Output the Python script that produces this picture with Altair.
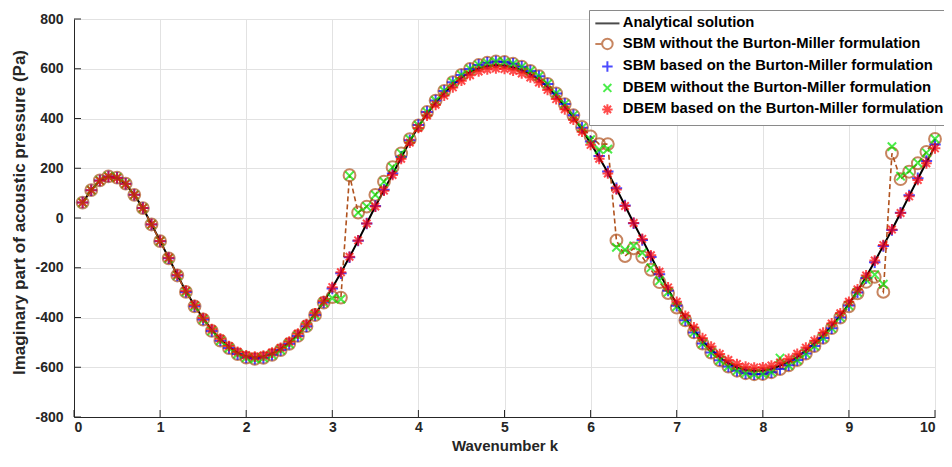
import altair as alt
import pandas as pd

# wavenumber grid (0.1 ... 10.0)
k = [round(0.1 * i, 1) for i in range(1, 101)]

analytical = [
    62, 112, 150, 166, 161, 137, 93, 40, -25, -92,
    -161, -229, -295, -352, -404, -450, -488, -518, -541, -556,
    -561, -557, -545, -526, -501, -469, -431, -386, -337, -280,
    -220, -157, -91, -22, 47, 112, 176, 242, 308, 368,
    419, 464, 502, 536, 564, 587, 602, 611, 615, 613,
    606, 595, 578, 557, 527, 490, 448, 404, 355, 301,
    243, 183, 118, 49, -20, -86, -154, -221, -286, -345,
    -402, -450, -494, -529, -560, -584, -601, -611, -615, -614,
    -607, -594, -579, -559, -533, -504, -471, -434, -392, -345,
    -293, -236, -175, -111, -47, 20, 89, 157, 224, 288,
]

sbm_bm = [
    62, 112, 151, 167, 162, 138, 93, 40, -26, -93,
    -162, -231, -297, -355, -408, -454, -493, -523, -547, -561,
    -566, -562, -550, -531, -506, -474, -435, -390, -340, -283,
    -222, -158, -91, -22, 48, 114, 179, 246, 313, 374,
    426, 472, 511, 546, 575, 599, 615, 624, 629, 627,
    620, 608, 591, 570, 539, 501, 458, 413, 363, 308,
    249, 187, 120, 50, -21, -88, -157, -226, -292, -353,
    -411, -460, -505, -541, -572, -597, -614, -624, -628, -627,
    -620, -607, -592, -571, -545, -515, -482, -443, -400, -352,
    -299, -241, -178, -113, -48, 21, 91, 160, 229, 295,
]

dbem_bm = [
    62, 112, 150, 166, 161, 137, 93, 40, -25, -92,
    -160, -228, -293, -350, -402, -447, -485, -515, -538, -552,
    -557, -553, -541, -522, -497, -465, -427, -383, -334, -278,
    -218, -156, -90, -22, 46, 110, 173, 238, 303, 362,
    412, 455, 492, 525, 552, 574, 589, 597, 601, 599,
    592, 581, 565, 545, 515, 478, 437, 395, 347, 294,
    238, 179, 115, 48, -20, -84, -150, -216, -279, -337,
    -393, -440, -483, -517, -547, -571, -587, -597, -601, -600,
    -593, -581, -566, -546, -521, -493, -461, -424, -383, -337,
    -287, -231, -171, -109, -46, 20, 87, 153, 220, 280,
]

sbm_wo = [
    62, 112, 151, 167, 162, 138, 93, 40, -26, -93,
    -162, -231, -297, -355, -408, -454, -493, -523, -547, -561,
    -566, -562, -550, -531, -506, -474, -435, -390, -340, -318,
    -320, 172, 22, 46, 93, 146, 204, 260, 317, 372,
    426, 472, 511, 546, 575, 599, 615, 624, 629, 627,
    620, 608, 591, 570, 539, 501, 458, 413, 366, 328,
    297, 297, -90, -153, -122, -156, -208, -258, -302, -360,
    -411, -460, -505, -541, -572, -597, -614, -624, -628, -627,
    -620, -607, -592, -571, -545, -515, -482, -443, -400, -355,
    -303, -257, -237, -297, 260, 156, 186, 220, 266, 318,
]

dbem_wo = [
    62, 112, 151, 167, 162, 138, 93, 40, -26, -93,
    -162, -231, -297, -355, -408, -454, -493, -523, -547, -561,
    -566, -562, -550, -531, -506, -474, -435, -390, -340, -322,
    -326, 170, 22, 46, 93, 146, 204, 260, 317, 372,
    426, 472, 511, 546, 575, 599, 615, 624, 629, 627,
    620, 608, 591, 570, 539, 501, 458, 413, 363, 315,
    275, 277, -118, -128, -112, -140, -200, -252, -298, -356,
    -411, -460, -505, -541, -572, -597, -614, -624, -628, -627,
    -620, -563, -592, -571, -545, -515, -482, -443, -400, -352,
    -299, -248, -228, -266, 287, 168, 190, 222, 262, 318,
]

names = [
    "Analytical solution",
    "SBM without the Burton-Miller formulation",
    "SBM based on the Burton-Miller formulation",
    "DBEM without the Burton-Miller formulation",
    "DBEM based on the Burton-Miller formulation",
]
colors = ["#000000", "#B0521E", "#0000FF", "#00E600", "#FF0000"]

x_ticks = list(range(0, 11))
y_ticks = list(range(-800, 801, 200))

FONT = "Liberation Sans"
BROWN = colors[1]

# long table of the four numerical series (drawing order = legend order)
rows = []
for name, vals in zip(names[1:], [sbm_wo, sbm_bm, dbem_wo, dbem_bm]):
    for kk, v in zip(k, vals):
        rows.append({"k": kk, "v": v, "series": name})
pts = pd.DataFrame(rows)
ana = pd.DataFrame({"k": k, "v": analytical})
sbw = pd.DataFrame({"k": k, "v": sbm_wo})
legend_df = pd.DataFrame({"k": [0.0] * 5, "v": [0.0] * 5, "name": names})

xs = alt.Scale(domain=[0, 10], nice=False, zero=False)
ys = alt.Scale(domain=[-800, 800], nice=False, zero=False)

x_enc = alt.X(
    "k:Q", scale=xs,
    axis=alt.Axis(
        values=x_ticks, title="Wavenumber k", labelExpr="'' + datum.value",
        titleX=430.5, titleY=33, titleBaseline="alphabetic", titleFontSize=15,
    ),
)
y_enc = alt.Y(
    "v:Q", scale=ys,
    axis=alt.Axis(
        values=y_ticks, title="Imaginary part of acoustic pressure (Pa)",
        labelExpr="'' + datum.value",
        titleX=-55, titleY=193, titleAngle=270, titleBaseline="middle",
    ),
)

line_a = alt.Chart(ana).mark_line(color="#000000", strokeWidth=2).encode(x=x_enc, y=y_enc)
line_b = alt.Chart(sbw).mark_line(color=BROWN, strokeWidth=1.6, strokeDash=[5, 3]).encode(
    x="k:Q", y="v:Q"
)

plot_shapes = [
    "circle",
    "M-1,0H1M0,-1V1",
    "M-0.75,-0.75L0.75,0.75M-0.75,0.75L0.75,-0.75",
    "M-1,0H1M0,-1V1M-0.7,-0.7L0.7,0.7M-0.7,0.7L0.7,-0.7",
]
points = alt.Chart(pts).mark_point(filled=False, strokeWidth=2).encode(
    x="k:Q",
    y="v:Q",
    color=alt.Color("series:N", scale=alt.Scale(domain=names[1:], range=colors[1:]), legend=None),
    shape=alt.Shape("series:N", scale=alt.Scale(domain=names[1:], range=plot_shapes), legend=None),
    size=alt.Size("series:N", scale=alt.Scale(domain=names[1:], range=[140, 115, 100, 150]), legend=None),
)

legend_shapes = [
    "M-2.3,0H2.3",
    "M-2.3,0H-1M1,0A1,1 0 1 1 -1,0A1,1 0 1 1 1,0",
    "M-1,0H1M0,-1V1",
    "M-0.75,-0.75L0.75,0.75M-0.75,0.75L0.75,-0.75",
    "M-1,0H1M0,-1V1M-0.7,-0.7L0.7,0.7M-0.7,0.7L0.7,-0.7",
]
leg = alt.Legend(
    title=None, orient="none", legendX=515, legendY=-9,
    fillColor="#FFFFFF", strokeColor="#8A8A8A", padding=6,
    labelFont=FONT, labelFontSize=14.8, labelFontWeight="bold", labelColor="#000000",
    labelLimit=0, symbolSize=110, symbolStrokeWidth=2, symbolOffset=5, labelOffset=8,
    rowPadding=3.5, symbolFillColor="transparent",
)
legend_layer = alt.Chart(legend_df).mark_point(filled=False).encode(
    x="k:Q",
    y="v:Q",
    color=alt.Color("name:N", scale=alt.Scale(domain=names, range=colors), legend=leg),
    shape=alt.Shape("name:N", scale=alt.Scale(domain=names, range=legend_shapes), legend=leg),
).transform_filter("false")

tick_y = alt.Chart(pd.DataFrame({"t": y_ticks})).mark_rule(color="#262626", strokeWidth=1).encode(
    y="t:Q", x=alt.value(0), x2=alt.value(7)
)
tick_x = alt.Chart(pd.DataFrame({"t": x_ticks})).mark_rule(color="#262626", strokeWidth=1).encode(
    x="t:Q", y=alt.value(398), y2=alt.value(391)
)

chart = (
    alt.layer(tick_y, tick_x, line_a, line_b, points, legend_layer)
    .resolve_scale(color="independent", shape="independent", size="independent")
    .properties(
        width=861, height=398,
        autosize=alt.AutoSizeParams(type="none"),
        padding={"left": 66, "top": 11, "right": 9, "bottom": 37},
    )
    .configure_view(stroke=None)
    .configure_axis(
        grid=True, gridColor="#E2E2E2", gridWidth=1,
        domainColor="#262626", domainWidth=1, tickSize=0,
        labelFont=FONT, labelFontSize=14, labelFontWeight="bold", labelColor="#262626",
        titleFont=FONT, titleFontSize=17, titleFontWeight="bold", titleColor="#262626",
    )
    .configure_axisX(labelPadding=3)
    .configure_axisY(labelPadding=11)
)

chart.save("out.html", embed_options={"renderer": "svg", "actions": False})
